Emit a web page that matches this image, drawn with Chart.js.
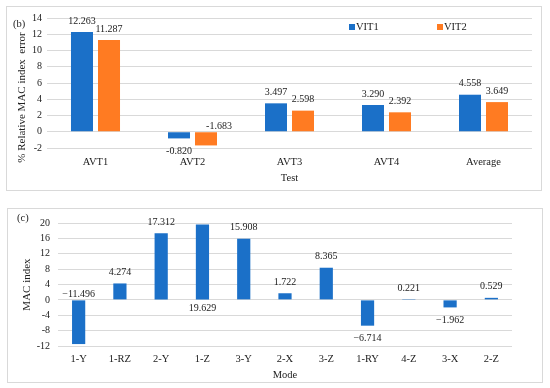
<!DOCTYPE html>
<html>
<head>
<meta charset="utf-8">
<script src="https://cdn.jsdelivr.net/npm/chart.js@4.4.1/dist/chart.umd.min.js"></script>
<style>
  body { margin: 0; background: #fff; width: 550px; height: 388px; position: relative; overflow: hidden; }
  .box { position: absolute; border: 1px solid #d9d9d9; }
  #boxB { left: 6px; top: 6px; width: 534px; height: 183px; }
  #boxC { left: 7px; top: 208px; width: 534px; height: 173px; }
  canvas { display: block; }
</style>
</head>
<body>
<div class="box" id="boxB"><canvas id="chartB" width="534" height="183"></canvas></div>
<div class="box" id="boxC"><canvas id="chartC" width="534" height="173"></canvas></div>
<script>
// panel (b)
const tests = ['AVT1', 'AVT2', 'AVT3', 'AVT4', 'Average'];
const vit1 = [12.263, -0.820, 3.497, 3.290, 4.558];
const vit2 = [11.287, -1.683, 2.598, 2.392, 3.649];
const ticksB = { min: -2, max: 14, step: 2 };

// panel (c)
const modes = ['1-Y', '1-RZ', '2-Y', '1-Z', '3-Y', '2-X', '3-Z', '1-RY', '4-Z', '3-X', '2-Z'];
const macIndex = [-11.496, 4.274, 17.312, 19.629, 15.908, 1.722, 8.365, -6.714, 0.221, -1.962, 0.529];
const ticksC = { min: -12, max: 20, step: 4 };

const BLUE = '#1b70c8';
const ORANGE = '#ff7b22';
const GRID = '#d9d9d9';
const FONT = "'Liberation Serif', 'Times New Roman', serif";
const TXT = '#222';

// labels sitting on the other side of the zero line (as in the original)
const atBaseB = [[], ['AVT2']];
const nudgeB = [[], { AVT2: 13 }];
const atBaseC = [['1-Y', '1-Z']];

function valueLabels(atBase, nudge, minus) {
  return {
    id: 'valueLabels',
    afterDatasetsDraw(chart) {
      const ctx = chart.ctx;
      const zero = chart.scales.y.getPixelForValue(0);
      ctx.save();
      ctx.font = '10px ' + FONT;
      ctx.fillStyle = TXT;
      ctx.textAlign = 'center';
      ctx.textBaseline = 'middle';
      chart.data.datasets.forEach((ds, di) => {
        const meta = chart.getDatasetMeta(di);
        meta.data.forEach((bar, i) => {
          const v = ds.data[i];
          const cat = chart.data.labels[i];
          let txt = v.toFixed(3);
          if (v < 0) txt = minus + Math.abs(v).toFixed(3);
          let y;
          const base = (atBase[di] || []).includes(cat);
          if (base) y = v < 0 ? zero - 5.5 : zero + 8;
          else y = v < 0 ? bar.y + 13 : bar.y - 11;
          const dx = (nudge && nudge[di] && nudge[di][cat]) || 0;
          ctx.fillText(txt, bar.x + dx, y);
        });
      });
      ctx.restore();
    }
  };
}

function panelLabel(text, x, y) {
  return {
    id: 'panelLabel',
    afterDraw(chart) {
      const ctx = chart.ctx;
      ctx.save();
      ctx.font = '10.5px ' + FONT;
      ctx.fillStyle = TXT;
      ctx.textBaseline = 'middle';
      ctx.fillText(text, x, y);
      ctx.restore();
    }
  };
}

// y title of (b) sits lower than the plot centre in the original
const yTitleB = {
  id: 'yTitleB',
  afterDraw(chart) {
    const ctx = chart.ctx;
    ctx.save();
    ctx.translate(15, 90.5);
    ctx.rotate(-Math.PI / 2);
    ctx.font = '11px ' + FONT;
    ctx.fillStyle = TXT;
    ctx.textAlign = 'center';
    ctx.textBaseline = 'middle';
    ctx.fillText('% Relative MAC index  error', 0, 0);
    ctx.restore();
  }
};

const legendB = {
  id: 'legendB',
  afterDraw(chart) {
    const ctx = chart.ctx;
    const xs = [342, 430];
    ctx.save();
    ctx.font = '10.5px ' + FONT;
    ctx.textBaseline = 'middle';
    chart.data.datasets.forEach((ds, i) => {
      ctx.fillStyle = ds.backgroundColor;
      ctx.fillRect(xs[i], 17, 6, 6);
      ctx.fillStyle = TXT;
      ctx.fillText(ds.label, xs[i] + 7, 20);
    });
    ctx.restore();
  }
};

function yScale(t, w, pad, title, tsize) {
  return {
    min: t.min, max: t.max,
    ticks: { stepSize: t.step, padding: pad, color: TXT, font: { family: FONT, size: 10 } },
    grid: { color: GRID, drawTicks: false, lineWidth: 1 },
    border: { display: false },
    title: { display: !!title, text: title, color: TXT, padding: 0, font: { family: FONT, size: tsize } },
    afterFit(s) { s.width = w; }
  };
}

function xScale(h, pad, title) {
  return {
    ticks: { padding: pad, color: TXT, font: { family: FONT, size: 10.5 }, maxRotation: 0 },
    grid: { display: false, drawTicks: false },
    border: { display: false },
    title: { display: true, text: title, color: TXT, padding: 0, font: { family: FONT, size: 10.5 } },
    afterFit(s) { s.height = h; }
  };
}

new Chart(document.getElementById('chartB'), {
  type: 'bar',
  data: {
    labels: tests,
    datasets: [
      { label: 'VIT1', data: vit1, backgroundColor: BLUE },
      { label: 'VIT2', data: vit2, backgroundColor: ORANGE }
    ]
  },
  options: {
    responsive: false,
    animation: false,
    layout: { padding: { left: 9, right: 9, top: 9, bottom: 5 } },
    datasets: { bar: { categoryPercentage: 0.557, barPercentage: 0.815 } },
    plugins: { legend: { display: false }, tooltip: { enabled: false } },
    scales: {
      x: xScale(37, 8, 'Test'),
      y: yScale(ticksB, 31, 5, '', 11)
    }
  },
  plugins: [valueLabels(atBaseB, nudgeB, '-'), panelLabel('(b)', 6, 17), legendB, yTitleB]
});

new Chart(document.getElementById('chartC'), {
  type: 'bar',
  data: {
    labels: modes,
    datasets: [{ label: 'MAC index', data: macIndex, backgroundColor: BLUE }]
  },
  options: {
    responsive: false,
    animation: false,
    layout: { padding: { left: 13, right: 30, top: 7, bottom: 0 } },
    datasets: { bar: { categoryPercentage: 1, barPercentage: 0.32 } },
    plugins: { legend: { display: false }, tooltip: { enabled: false } },
    scales: {
      x: xScale(36, 7, 'Mode'),
      y: yScale(ticksC, 37, 8, 'MAC index', 11)
    }
  },
  plugins: [valueLabels(atBaseC, null, '\u2212'), panelLabel('(c)', 9, 9)]
});
</script>
</body>
</html>
